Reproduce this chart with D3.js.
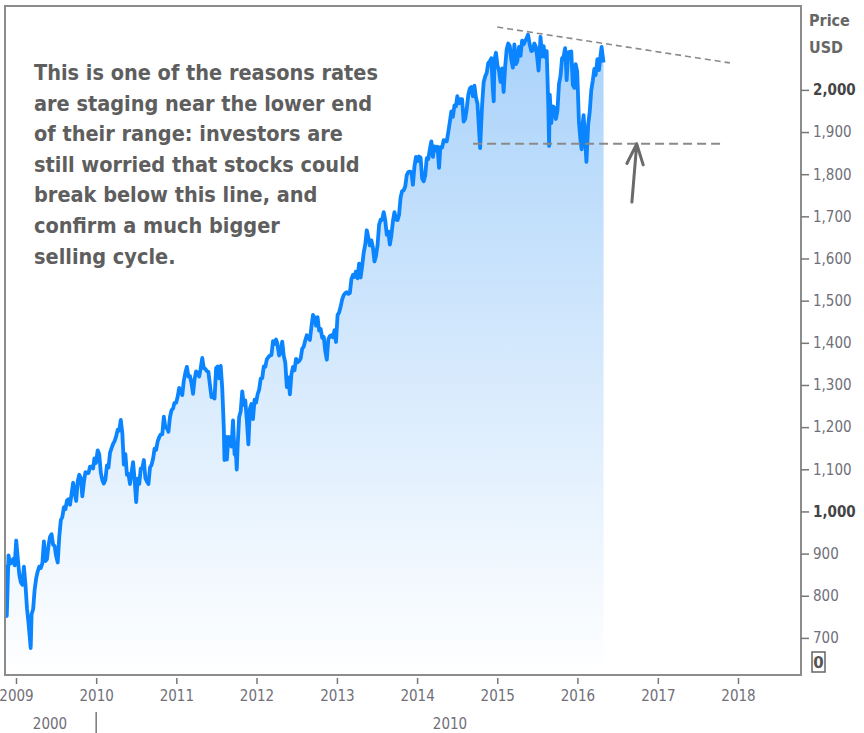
<!DOCTYPE html>
<html>
<head>
<meta charset="utf-8">
<script src="https://cdn.jsdelivr.net/npm/d3@7"></script>
<style>
  body { margin: 0; background: #fff; }
  svg { display: block; }
  text { font-family: "DejaVu Sans", Verdana, sans-serif; }
</style>
</head>
<body>
<div id="chart"></div>
<script>
// weekly closes
var weeks = [
  "2008-11-14","2008-11-20","2008-11-28","2008-12-05","2008-12-12","2008-12-19","2008-12-26",
  "2009-01-02","2009-01-09","2009-01-16","2009-01-23","2009-01-30","2009-02-06","2009-02-13","2009-02-20","2009-02-27",
  "2009-03-09","2009-03-13","2009-03-20","2009-03-27","2009-04-03","2009-04-09","2009-04-17","2009-04-24",
  "2009-05-01","2009-05-08","2009-05-15","2009-05-22","2009-05-29","2009-06-05","2009-06-12","2009-06-19","2009-06-26",
  "2009-07-02","2009-07-10","2009-07-17","2009-07-24","2009-07-31","2009-08-07","2009-08-14","2009-08-21","2009-08-28",
  "2009-09-04","2009-09-11","2009-09-18","2009-09-25","2009-10-02","2009-10-09","2009-10-16","2009-10-23","2009-10-30",
  "2009-11-06","2009-11-13","2009-11-20","2009-11-27","2009-12-04","2009-12-11","2009-12-18","2009-12-24","2009-12-31",
  "2010-01-08","2010-01-15","2010-01-22","2010-01-29","2010-02-05","2010-02-12","2010-02-19","2010-02-26",
  "2010-03-05","2010-03-12","2010-03-19","2010-03-26","2010-04-02","2010-04-09","2010-04-16","2010-04-23","2010-04-30",
  "2010-05-07","2010-05-14","2010-05-21","2010-05-28","2010-06-04","2010-06-11","2010-06-18","2010-06-25",
  "2010-07-02","2010-07-09","2010-07-16","2010-07-23","2010-07-30","2010-08-06","2010-08-13","2010-08-20","2010-08-27",
  "2010-09-03","2010-09-10","2010-09-17","2010-09-24","2010-10-01","2010-10-08","2010-10-15","2010-10-22","2010-10-29",
  "2010-11-05","2010-11-12","2010-11-19","2010-11-26","2010-12-03","2010-12-10","2010-12-17","2010-12-23","2010-12-31",
  "2011-01-07","2011-01-14","2011-01-21","2011-01-28","2011-02-04","2011-02-11","2011-02-18","2011-02-25",
  "2011-03-04","2011-03-11","2011-03-18","2011-03-25","2011-04-01","2011-04-08","2011-04-15","2011-04-21","2011-04-29",
  "2011-05-06","2011-05-13","2011-05-20","2011-05-27","2011-06-03","2011-06-10","2011-06-17","2011-06-24",
  "2011-07-01","2011-07-08","2011-07-15","2011-07-22","2011-07-29","2011-08-05","2011-08-08","2011-08-12","2011-08-19","2011-08-26",
  "2011-09-02","2011-09-09","2011-09-16","2011-09-23","2011-09-30","2011-10-03","2011-10-07","2011-10-14","2011-10-21","2011-10-28",
  "2011-11-04","2011-11-11","2011-11-18","2011-11-25","2011-12-02","2011-12-09","2011-12-16","2011-12-23","2011-12-30",
  "2012-01-06","2012-01-13","2012-01-20","2012-01-27","2012-02-03","2012-02-10","2012-02-17","2012-02-24",
  "2012-03-02","2012-03-09","2012-03-16","2012-03-23","2012-03-30","2012-04-05","2012-04-13","2012-04-20","2012-04-27",
  "2012-05-04","2012-05-11","2012-05-18","2012-05-25","2012-06-01","2012-06-08","2012-06-15","2012-06-22","2012-06-29",
  "2012-07-06","2012-07-13","2012-07-20","2012-07-27","2012-08-03","2012-08-10","2012-08-17","2012-08-24","2012-08-31",
  "2012-09-07","2012-09-14","2012-09-21","2012-09-28","2012-10-05","2012-10-12","2012-10-19","2012-10-26",
  "2012-11-02","2012-11-09","2012-11-16","2012-11-23","2012-11-30","2012-12-07","2012-12-14","2012-12-21","2012-12-28",
  "2013-01-04","2013-01-11","2013-01-18","2013-01-25","2013-02-01","2013-02-08","2013-02-15","2013-02-22",
  "2013-03-01","2013-03-08","2013-03-15","2013-03-22","2013-03-28","2013-04-05","2013-04-12","2013-04-19","2013-04-26",
  "2013-05-03","2013-05-10","2013-05-17","2013-05-24","2013-05-31","2013-06-07","2013-06-14","2013-06-21","2013-06-28",
  "2013-07-05","2013-07-12","2013-07-19","2013-07-26","2013-08-02","2013-08-09","2013-08-16","2013-08-23","2013-08-30",
  "2013-09-06","2013-09-13","2013-09-20","2013-09-27","2013-10-04","2013-10-11","2013-10-18","2013-10-25",
  "2013-11-01","2013-11-08","2013-11-15","2013-11-22","2013-11-29","2013-12-06","2013-12-13","2013-12-20","2013-12-27",
  "2014-01-03","2014-01-10","2014-01-17","2014-01-24","2014-01-31","2014-02-07","2014-02-14","2014-02-21","2014-02-28",
  "2014-03-07","2014-03-14","2014-03-21","2014-03-28","2014-04-04","2014-04-11","2014-04-17","2014-04-25",
  "2014-05-02","2014-05-09","2014-05-16","2014-05-23","2014-05-30","2014-06-06","2014-06-13","2014-06-20","2014-06-27",
  "2014-07-03","2014-07-11","2014-07-18","2014-07-25","2014-08-01","2014-08-08","2014-08-15","2014-08-22","2014-08-29",
  "2014-09-05","2014-09-12","2014-09-19","2014-09-26","2014-10-03","2014-10-10","2014-10-15","2014-10-17","2014-10-24","2014-10-31",
  "2014-11-07","2014-11-14","2014-11-21","2014-11-28","2014-12-05","2014-12-12","2014-12-16","2014-12-19","2014-12-26",
  "2015-01-02","2015-01-09","2015-01-16","2015-01-23","2015-01-30","2015-02-06","2015-02-13","2015-02-20","2015-02-27",
  "2015-03-06","2015-03-13","2015-03-20","2015-03-27","2015-04-02","2015-04-10","2015-04-17","2015-04-24",
  "2015-05-01","2015-05-08","2015-05-15","2015-05-21","2015-05-29","2015-06-05","2015-06-12","2015-06-19","2015-06-26",
  "2015-07-02","2015-07-08","2015-07-17","2015-07-24","2015-07-31","2015-08-07","2015-08-14","2015-08-21","2015-08-25","2015-08-28",
  "2015-09-04","2015-09-11","2015-09-18","2015-09-25","2015-10-02","2015-10-09","2015-10-16","2015-10-23","2015-10-30",
  "2015-11-06","2015-11-13","2015-11-20","2015-11-27","2015-12-04","2015-12-11","2015-12-18","2015-12-24","2015-12-31",
  "2016-01-08","2016-01-15","2016-01-20","2016-01-22","2016-01-29","2016-02-05","2016-02-11","2016-02-19","2016-02-26",
  "2016-03-04","2016-03-11","2016-03-18","2016-03-24","2016-04-01","2016-04-08","2016-04-15","2016-04-20","2016-04-22","2016-04-29"
];

var closes = [
  873, 752, 896, 876, 879, 887, 872,
  931, 890, 850, 832, 826, 869, 827, 770, 735,
  676, 756, 768, 815, 842, 856, 869, 866,
  877, 929, 882, 887, 919, 940, 946, 921, 918,
  896, 879, 940, 979, 987, 1010, 1005, 1026, 1029,
  1016, 1042, 1068, 1044, 1025, 1071, 1087, 1079, 1036,
  1069, 1093, 1091, 1091, 1106, 1106, 1102, 1126, 1115,
  1145, 1136, 1092, 1074, 1066, 1075, 1109, 1104,
  1139, 1150, 1160, 1167, 1178, 1194, 1192, 1217, 1187,
  1111, 1136, 1087, 1089, 1065, 1092, 1117, 1076,
  1022, 1078, 1065, 1102, 1102, 1122, 1079, 1071, 1065,
  1104, 1110, 1125, 1149, 1146, 1166, 1176, 1183, 1183,
  1225, 1199, 1199, 1189, 1224, 1240, 1244, 1257, 1258,
  1272, 1293, 1283, 1276, 1310, 1329, 1343, 1320,
  1321, 1304, 1279, 1314, 1332, 1328, 1320, 1337, 1364,
  1340, 1338, 1333, 1331, 1300, 1271, 1271, 1268,
  1340, 1344, 1316, 1345, 1292, 1199, 1122, 1178, 1123, 1177,
  1174, 1154, 1216, 1136, 1131, 1099, 1155, 1224, 1238, 1285,
  1253, 1263, 1216, 1159, 1244, 1255, 1219, 1265, 1258,
  1278, 1289, 1315, 1316, 1344, 1343, 1361, 1366,
  1370, 1371, 1404, 1397, 1408, 1398, 1370, 1378, 1403,
  1369, 1353, 1295, 1318, 1278, 1325, 1343, 1335, 1362,
  1354, 1357, 1363, 1386, 1391, 1406, 1418, 1411, 1407,
  1438, 1466, 1460, 1441, 1461, 1429, 1433, 1412,
  1414, 1380, 1360, 1409, 1416, 1418, 1413, 1430, 1402,
  1466, 1472, 1486, 1503, 1513, 1518, 1520, 1516,
  1518, 1551, 1561, 1556, 1569, 1553, 1588, 1555, 1582,
  1614, 1633, 1667, 1650, 1631, 1643, 1626, 1593, 1606,
  1632, 1680, 1692, 1692, 1710, 1691, 1656, 1664, 1633,
  1655, 1688, 1710, 1692, 1691, 1704, 1745, 1760,
  1762, 1771, 1798, 1805, 1806, 1805, 1775, 1818, 1841,
  1831, 1842, 1839, 1790, 1783, 1797, 1838, 1836, 1859,
  1878, 1841, 1866, 1857, 1865, 1815, 1864, 1863,
  1881, 1878, 1878, 1900, 1924, 1949, 1936, 1963, 1961,
  1985, 1968, 1978, 1978, 1925, 1931, 1955, 1988, 2003,
  2007, 1985, 2010, 1982, 1967, 1906, 1862, 1886, 1964, 2018,
  2032, 2040, 2064, 2068, 2075, 2002, 1973, 2071, 2088,
  2058, 2045, 2019, 2051, 1995, 2055, 2097, 2110, 2104,
  2071, 2053, 2108, 2061, 2067, 2102, 2081, 2117,
  2108, 2116, 2123, 2131, 2107, 2092, 2094, 2110, 2102,
  2076, 2046, 2126, 2079, 2104, 2078, 2092, 1971, 1867, 1989,
  1921, 1961, 1958, 1931, 1951, 2014, 2033, 2075, 2079,
  2099, 2023, 2089, 2090, 2091, 2012, 2005, 2061, 2044,
  1922, 1880, 1859, 1906, 1940, 1880, 1829, 1918, 1948,
  1999, 2022, 2050, 2035, 2073, 2047, 2081, 2102, 2092, 2065
];

var priceTicks = [700, 800, 900, 1000, 1100, 1200, 1300, 1400, 1500, 1600, 1700, 1800, 1900, 2000];
var boldTicks = [1000, 2000];

// annotation lines
var supportLevel = 1872;
var supportDates = ["2014-09-13", "2017-10-12"];
var trendDates = ["2015-01-01", "2017-11-25"];
var trendValues = [2149, 2064];
var arrowFrom = ["2016-09-05", 1734];
var arrowTo = ["2016-09-27", 1872];

var noteLines = [
  "This is one of the reasons rates",
  "are staging near the lower end",
  "of their range: investors are",
  "still worried that stocks could",
  "break below this line, and",
  "confirm a much bigger",
  "selling cycle."
];

var svgWidth = 864;
var svgHeight = 733;

var plot = { left: 5, right: 801, top: 6, bottom: 675 };

var parseDate = d3.timeParse("%Y-%m-%d");

var data = weeks.map(function(w, i) {
  return { date: parseDate(w), close: closes[i] };
});

var svg = d3.select("#chart")
  .append("svg").attr("width", svgWidth).attr("height", svgHeight);

// year ticks sit at Jan 1 of each year
var xScale = d3.scaleTime()
  .domain([new Date(2009, 0, 1), new Date(2018, 0, 1)])
  .range([16, 738]);

var yScale = d3.scaleLinear()
  .domain([612, 2199])
  .range([plot.bottom, plot.top]);

var defs = svg.append("defs");

defs.append("clipPath").attr("id", "clip")
  .append("rect")
  .attr("x", plot.left).attr("y", plot.top)
  .attr("width", plot.right - plot.left).attr("height", plot.bottom - plot.top);

var grad = defs.append("linearGradient")
  .attr("id", "fillGrad")
  .attr("gradientUnits", "userSpaceOnUse")
  .attr("x1", 0).attr("y1", 30).attr("x2", 0).attr("y2", plot.bottom);
grad.append("stop").attr("offset", "0%").attr("stop-color", "#a9d2fa");
grad.append("stop").attr("offset", "100%").attr("stop-color", "#ffffff");

var chartGroup = svg.append("g").attr("clip-path", "url(#clip)");

var area = d3.area()
  .x(d => xScale(d.date))
  .y0(plot.bottom)
  .y1(d => yScale(d.close));

var line = d3.line()
  .x(d => xScale(d.date))
  .y(d => yScale(d.close));

chartGroup.append("path")
  .datum(data)
  .attr("d", area)
  .attr("fill", "url(#fillGrad)");

chartGroup.append("path")
  .datum(data)
  .attr("d", line)
  .attr("fill", "none")
  .attr("stroke", "#0a84ff")
  .attr("stroke-width", 3.8)
  .attr("stroke-linejoin", "round");

// support line
chartGroup.append("line")
  .attr("x1", xScale(parseDate(supportDates[0])))
  .attr("x2", xScale(parseDate(supportDates[1])))
  .attr("y1", yScale(supportLevel))
  .attr("y2", yScale(supportLevel))
  .attr("stroke", "#8a8a8a")
  .attr("stroke-width", 2)
  .attr("stroke-dasharray", "9,5");

// falling trend line
chartGroup.append("line")
  .attr("x1", xScale(parseDate(trendDates[0])))
  .attr("x2", xScale(parseDate(trendDates[1])))
  .attr("y1", yScale(trendValues[0]))
  .attr("y2", yScale(trendValues[1]))
  .attr("stroke", "#8a8a8a")
  .attr("stroke-width", 1.6)
  .attr("stroke-dasharray", "6,4");

// arrow
var ax0 = xScale(parseDate(arrowFrom[0])), ay0 = yScale(arrowFrom[1]);
var ax1 = xScale(parseDate(arrowTo[0])), ay1 = yScale(arrowTo[1]);
var ang = Math.atan2(ay1 - ay0, ax1 - ax0);
var headLen = 22, headSpread = 0.38;
chartGroup.append("path")
  .attr("d", `M${ax0},${ay0}L${ax1},${ay1}` +
    `M${ax1 - headLen * Math.cos(ang - headSpread)},${ay1 - headLen * Math.sin(ang - headSpread)}` +
    `L${ax1},${ay1}` +
    `L${ax1 - headLen * Math.cos(ang + headSpread)},${ay1 - headLen * Math.sin(ang + headSpread)}`)
  .attr("fill", "none")
  .attr("stroke", "#6a6a6a")
  .attr("stroke-width", 3)
  .attr("stroke-linecap", "round")
  .attr("stroke-linejoin", "round");

// frame
svg.append("rect")
  .attr("x", plot.left).attr("y", plot.top)
  .attr("width", plot.right - plot.left).attr("height", plot.bottom - plot.top)
  .attr("fill", "none")
  .attr("stroke", "#8c8c8c")
  .attr("stroke-width", 2);

// right axis
var rightAxis = d3.axisRight(yScale)
  .tickValues(priceTicks)
  .tickSize(8)
  .tickPadding(4)
  .tickFormat(d3.format(","));

var yAxis = svg.append("g")
  .attr("transform", `translate(${plot.right}, 0)`)
  .call(rightAxis);

yAxis.select(".domain").remove();
yAxis.selectAll(".tick line").attr("stroke", "#777").attr("stroke-width", 1.5);
yAxis.selectAll(".tick text")
  .attr("fill", d => boldTicks.indexOf(d) >= 0 ? "#444" : "#6f6f78")
  .attr("font-weight", d => boldTicks.indexOf(d) >= 0 ? "bold" : "normal")
  .style("font-family", "'DejaVu Sans Condensed', 'DejaVu Sans', sans-serif")
  .style("font-stretch", "condensed")
  .attr("font-size", 15);

svg.append("text")
  .attr("x", 809).attr("y", 26)
  .attr("font-size", 16).attr("font-weight", "bold").attr("fill", "#666")
  .style("font-family", "'DejaVu Sans Condensed', 'DejaVu Sans', sans-serif")
  .style("font-stretch", "condensed")
  .text("Price");
svg.append("text")
  .attr("x", 809).attr("y", 53)
  .attr("font-size", 16).attr("font-weight", "bold").attr("fill", "#666")
  .style("font-family", "'DejaVu Sans Condensed', 'DejaVu Sans', sans-serif")
  .style("font-stretch", "condensed")
  .text("USD");

// zero box
svg.append("rect")
  .attr("x", 812).attr("y", 652).attr("width", 13).attr("height", 20)
  .attr("fill", "none").attr("stroke", "#666").attr("stroke-width", 1.5);
svg.append("text")
  .attr("x", 818.5).attr("y", 668).attr("text-anchor", "middle")
  .attr("font-size", 15).attr("font-weight", "bold").attr("fill", "#555")
  .text("0");

// bottom axis
var bottomAxis = d3.axisBottom(xScale)
  .ticks(d3.timeYear.every(1))
  .tickSize(6)
  .tickPadding(6)
  .tickFormat(d3.timeFormat("%Y"));

var xAxis = svg.append("g")
  .attr("transform", `translate(0, ${plot.bottom + 3})`)
  .call(bottomAxis);

xAxis.select(".domain").remove();
xAxis.selectAll(".tick line").attr("stroke", "#777").attr("stroke-width", 1.5);
xAxis.selectAll(".tick text")
  .attr("fill", "#6f6f78")
  .style("font-family", "'DejaVu Sans Condensed', 'DejaVu Sans', sans-serif")
  .style("font-stretch", "condensed")
  .attr("font-size", 15);

// second row of the time axis
svg.append("line")
  .attr("x1", xScale(new Date(2010, 0, 1))).attr("x2", xScale(new Date(2010, 0, 1)))
  .attr("y1", 712).attr("y2", 733)
  .attr("stroke", "#777").attr("stroke-width", 1.5);
svg.append("text")
  .attr("x", 50).attr("y", 729).attr("text-anchor", "middle")
  .attr("font-size", 15).attr("fill", "#6f6f78")
  .style("font-family", "'DejaVu Sans Condensed', 'DejaVu Sans', sans-serif")
  .style("font-stretch", "condensed")
  .text("2000");
svg.append("text")
  .attr("x", 450).attr("y", 729).attr("text-anchor", "middle")
  .attr("font-size", 15).attr("fill", "#6f6f78")
  .style("font-family", "'DejaVu Sans Condensed', 'DejaVu Sans', sans-serif")
  .style("font-stretch", "condensed")
  .text("2010");

// note text
var note = svg.append("g");
var noteText = note.append("text")
  .attr("font-size", 21)
  .attr("font-weight", "bold")
  .attr("fill", "#5e5e5e")
  .style("font-family", "'DejaVu Sans Condensed', 'DejaVu Sans', sans-serif")
  .style("font-stretch", "condensed");

noteText.selectAll("tspan")
  .data(noteLines)
  .enter()
  .append("tspan")
  .attr("x", 0)
  .attr("y", (d, i) => i * 30.6)
  .text(d => d);

// squeeze to the width the first line has in the original
var firstWidth = noteText.select("tspan").node().getComputedTextLength();
var sx = 344 / firstWidth;
note.attr("transform", `translate(34, 80) scale(${sx}, 1)`);
</script>
</body>
</html>
